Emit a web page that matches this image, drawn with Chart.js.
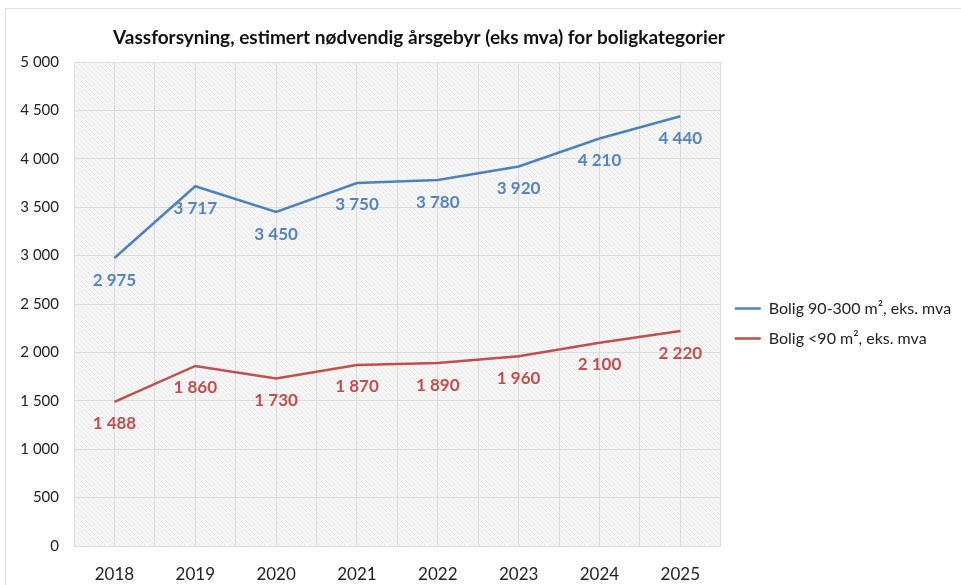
<!DOCTYPE html>
<html>
<head>
<meta charset="utf-8">
<script src="https://cdn.jsdelivr.net/npm/chart.js@4"></script>
<style>
    html, body { margin: 0; padding: 0; background: #fff; }
    #wrap { position: relative; width: 961px; height: 585px; }
    #frame { position: absolute; left: 5px; top: 8px; right: 0; bottom: 0;
             border-top: 1px solid #e2e2e2; border-left: 1px solid #e2e2e2; }
    canvas { position: absolute; left: 0; top: 0; }
</style>
</head>
<body>
<div id="wrap">
    <div id="frame"></div>
    <canvas id="chart" width="961" height="585"></canvas>
</div>
<script>
// ---- data ----
var YEARS      = ["2018", "2019", "2020", "2021", "2022", "2023", "2024", "2025"];
var STORE      = [2975, 3717, 3450, 3750, 3780, 3920, 4210, 4440];
var SMAA       = [1488, 1860, 1730, 1870, 1890, 1960, 2100, 2220];
var NAME_STORE = "Bolig 90-300 m\u00b2, eks. mva";
var NAME_SMAA  = "Bolig <90 m\u00b2, eks. mva";
var TITLE      = "Vassforsyning, estimert nødvendig årsgebyr (eks mva) for boligkategorier";

var BLUE = "#4f81bd";
var RED  = "#c0504d";
var FONT = "Lato, 'Open Sans', sans-serif";

// tall med mellomrom som tusenskille
function fmt(v) {
    return String(v).replace(/\B(?=(\d{3})+(?!\d))/g, " ");
}

// skravert bakgrunn i plottområdet
function makeHatch() {
    var c = document.createElement("canvas");
    c.width = 5; c.height = 5;
    var g = c.getContext("2d");
    g.fillStyle = "#f6f6f6";
    g.fillRect(0, 0, 5, 5);
    g.strokeStyle = "#e9e9e9";
    g.lineWidth = 1;
    g.beginPath();
    g.moveTo(-1, -1); g.lineTo(6, 6);
    g.moveTo(-1, 4);  g.lineTo(1, 6);
    g.moveTo(4, -1);  g.lineTo(6, 1);
    g.stroke();
    return g.createPattern(c, "repeat");
}

var hatchPlugin = {
    id: "hatch",
    beforeDraw: function (chart) {
        var a = chart.chartArea, ctx = chart.ctx;
        ctx.save();
        ctx.fillStyle = makeHatch();
        ctx.fillRect(a.left, a.top, a.right - a.left, a.bottom - a.top);
        ctx.restore();
    }
};

var titlePlugin = {
    id: "ownTitle",
    afterDraw: function (chart) {
        var ctx = chart.ctx;
        ctx.save();
        ctx.font = "bold 19px " + FONT;
        ctx.fillStyle = "#111";
        ctx.textAlign = "center";
        ctx.textBaseline = "middle";
        ctx.fillText(TITLE, 419, 38);
        ctx.restore();
    }
};

// verdietiketter under punktene
var labelPlugin = {
    id: "valueLabels",
    afterDatasetsDraw: function (chart) {
        var ctx = chart.ctx;
        ctx.save();
        ctx.font = "bold 17px " + FONT;
        ctx.textAlign = "center";
        ctx.textBaseline = "middle";
        chart.data.datasets.forEach(function (ds, i) {
            var meta = chart.getDatasetMeta(i);
            ctx.fillStyle = ds.labelColor;
            meta.data.forEach(function (pt, j) {
                ctx.fillText(fmt(ds.data[j]), pt.x, pt.y + 22);
            });
        });
        ctx.restore();
    }
};

var gridLabels = [];
for (var k = 0; k <= YEARS.length * 2; k++) gridLabels.push("");

new Chart(document.getElementById("chart"), {
    type: "line",
    data: {
        labels: YEARS,
        datasets: [
            { label: NAME_STORE, data: STORE, borderColor: BLUE, backgroundColor: BLUE,
              borderWidth: 2.5, pointRadius: 0, tension: 0, labelColor: "#5585bf" },
            { label: NAME_SMAA, data: SMAA, borderColor: RED, backgroundColor: RED,
              borderWidth: 2.5, pointRadius: 0, tension: 0, labelColor: RED }
        ]
    },
    plugins: [hatchPlugin, titlePlugin, labelPlugin],
    options: {
        responsive: false,
        animation: false,
        layout: { padding: { top: 62, right: 0, bottom: 0, left: 0 } },
        plugins: {
            title: { display: false },
            tooltip: { enabled: false },
            legend: {
                position: "right",
                align: "center",
                labels: {
                    color: "#222",
                    font: { family: FONT, size: 16 },
                    usePointStyle: true,
                    pointStyle: "line",
                    pointStyleWidth: 26,
                    boxWidth: 26,
                    padding: 14
                }
            }
        },
        scales: {
            x: {
                offset: true,
                grid: { display: false },
                border: { display: false },
                ticks: { color: "#222", font: { family: FONT, size: 17 }, padding: 10 },
                afterFit: function (s) { s.height = 39; }
            },
            xg: {
                type: "category",
                labels: gridLabels,
                position: "bottom",
                offset: false,
                grid: { color: "#dddddd", lineWidth: 1, drawTicks: false },
                border: { display: false },
                ticks: { display: false },
                afterFit: function (s) { s.height = 0; }
            },
            y: {
                min: 0,
                max: 5000,
                grid: { color: "#dddddd", lineWidth: 1, drawTicks: false },
                border: { display: false },
                ticks: {
                    stepSize: 500,
                    color: "#222",
                    font: { family: FONT, size: 15 },
                    padding: 15,
                    callback: function (v) { return fmt(v); }
                },
                afterFit: function (s) { s.width = 74; }
            }
        }
    }
});
</script>
</body>
</html>
